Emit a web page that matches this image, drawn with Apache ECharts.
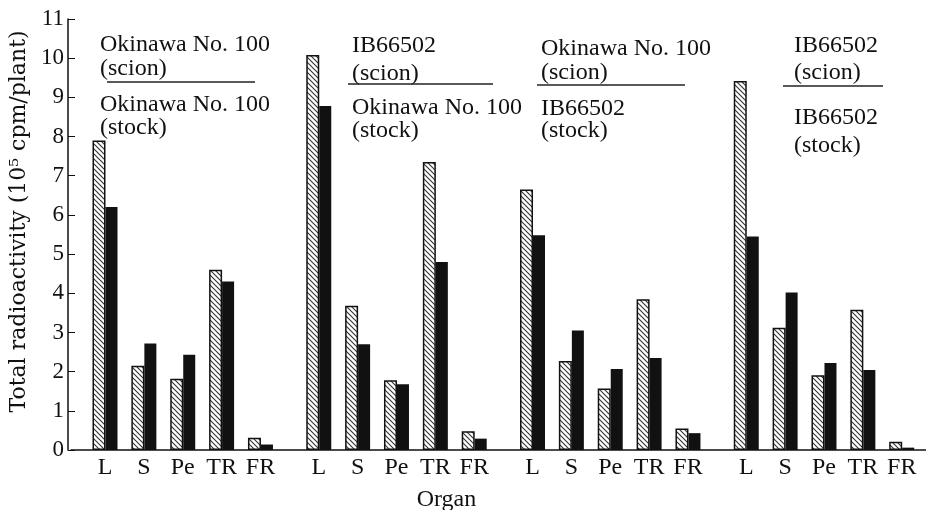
<!DOCTYPE html>
<html>
<head>
<meta charset="utf-8">
<script src="https://cdn.jsdelivr.net/npm/echarts@6/dist/echarts.min.js"></script>
<style>
html,body{margin:0;padding:0;background:#fff;}
#chart{width:926px;height:510px;}
</style>
</head>
<body>
<div id="chart"></div>
<script>
// ---- data ----
const organs = ['L', 'S', 'Pe', 'TR', 'FR'];
const scionLabels = ['Okinawa No. 100', 'IB66502', 'Okinawa No. 100', 'IB66502'];
const stockLabels = ['Okinawa No. 100', 'Okinawa No. 100', 'IB66502', 'IB66502'];
// hatched bars, per graft combination (order of organs)
const hatched1 = [7.9, 2.15, 1.82, 4.6, 0.31];
const hatched2 = [10.08, 3.68, 1.78, 7.35, 0.48];
const hatched3 = [6.65, 2.27, 1.57, 3.85, 0.55];
const hatched4 = [9.42, 3.12, 1.91, 3.58, 0.21];
// solid (black) bars
const solid1 = [6.2, 2.72, 2.43, 4.3, 0.14];
const solid2 = [8.78, 2.7, 1.68, 4.8, 0.29];
const solid3 = [5.48, 3.05, 2.07, 2.35, 0.43];
const solid4 = [5.45, 4.02, 2.22, 2.04, 0.06];
const yTicks = [0,1,2,3,4,5,6,7,8,9,10,11];

const hatchedGroups = [hatched1, hatched2, hatched3, hatched4];
const solidGroups = [solid1, solid2, solid3, solid4];

// ---- build category axis with spacer slots ----
const LEAD = 3, WITHIN = 3, BETWEEN = 5, TRAIL = 2;
const cats = [], hData = [], sData = [];
function pad(n){ for(let i=0;i<n;i++){ cats.push(''); hData.push('-'); sData.push('-'); } }
pad(LEAD);
hatchedGroups.forEach((hg, g) => {
  organs.forEach((o, i) => {
    cats.push(o); hData.push(hg[i]); sData.push(solidGroups[g][i]);
    if (i < organs.length - 1) pad(WITHIN);
  });
  if (g < hatchedGroups.length - 1) pad(BETWEEN);
});
pad(TRAIL);

function hatchPattern(){
  const s = 5;
  const c = document.createElement('canvas');
  c.width = s; c.height = s;
  const ctx = c.getContext('2d');
  ctx.fillStyle = '#fff'; ctx.fillRect(0,0,s,s);
  ctx.strokeStyle = '#333'; ctx.lineWidth = 1.1;
  ctx.beginPath();
  ctx.moveTo(-1,-1); ctx.lineTo(s+1,s+1);
  ctx.moveTo(-1,s-1); ctx.lineTo(1,s+1);
  ctx.moveTo(s-1,-1); ctx.lineTo(s+1,1);
  ctx.stroke();
  return c;
}

const FONT = "'Liberation Serif', 'DejaVu Serif', serif";
const FONT2 = "'DejaVu Serif', 'Liberation Serif', serif";
const ann = [
  {x:100, line:[107,255], ys:[45,69,82,105,128]},
  {x:352, line:[348,493], ys:[46,74,84,108,131]},
  {x:541, line:[537,685], ys:[49,73,85,109,131]},
  {x:794, line:[783,883], ys:[46,73,86,118,146]}
];
const graphic = [];
ann.forEach((a, g) => {
  const t = (txt, y) => ({type:'text', style:{text:txt, x:a.x, y:y, fontSize:24, fontFamily:FONT, fill:'#111', verticalAlign:'middle'}});
  graphic.push(t(scionLabels[g], a.ys[0]));
  graphic.push(t('(scion)', a.ys[1]));
  graphic.push({type:'line', shape:{x1:a.line[0], y1:a.ys[2], x2:a.line[1], y2:a.ys[2]}, style:{stroke:'#222', lineWidth:1.5}});
  graphic.push(t(stockLabels[g], a.ys[3]));
  graphic.push(t('(stock)', a.ys[4]));
});

const chart = echarts.init(document.getElementById('chart'), null, {renderer:'canvas'});
chart.setOption({
  animation: false,
  backgroundColor: '#fff',
  grid: {left: 71, right: 0, top: 19, bottom: 60, containLabel: false, outerBoundsMode: 'none'},
  xAxis: {
    type: 'category',
    data: cats,
    name: 'Organ',
    nameLocation: 'middle',
    nameGap: 38,
    nameTextStyle: {fontSize: 24, fontFamily: FONT, color: '#111', padding: [0, 104, 0, 0]},
    axisLine: {lineStyle: {color: '#111', width: 1.5}},
    axisTick: {show: false},
    axisLabel: {interval: 0, fontSize: 24, fontFamily: FONT, color: '#111', margin: 6}
  },
  yAxis: {
    type: 'value',
    min: 0, max: 11, interval: 1,
    offset: 3,
    name: 'Total radioactivity (10\u2075 cpm/plant)',
    nameLocation: 'middle',
    nameGap: 31,
    nameTextStyle: {fontSize: 22, fontFamily: FONT2, color: '#111', padding: [0, 0, 0, 26]},
    axisLine: {show: true, lineStyle: {color: '#111', width: 1.5}},
    axisTick: {show: true, inside: true, length: 7, lineStyle: {color: '#111'}},
    splitLine: {show: false},
    axisLabel: {fontSize: 23, fontFamily: FONT, color: '#111', margin: 4,
      formatter: v => yTicks.includes(v) ? String(v) : ''}
  },
  series: [
    {name: 'hatched', type: 'bar', data: hData, barWidth: 13, barGap: '0%',
     itemStyle: {color: {image: hatchPattern(), repeat: 'repeat'}, borderColor: '#111', borderWidth: 1.5}},
    {name: 'solid', type: 'bar', data: sData, barWidth: 12, barGap: '0%',
     itemStyle: {color: '#111'}}
  ],
  graphic: graphic
});
</script>
</body>
</html>
